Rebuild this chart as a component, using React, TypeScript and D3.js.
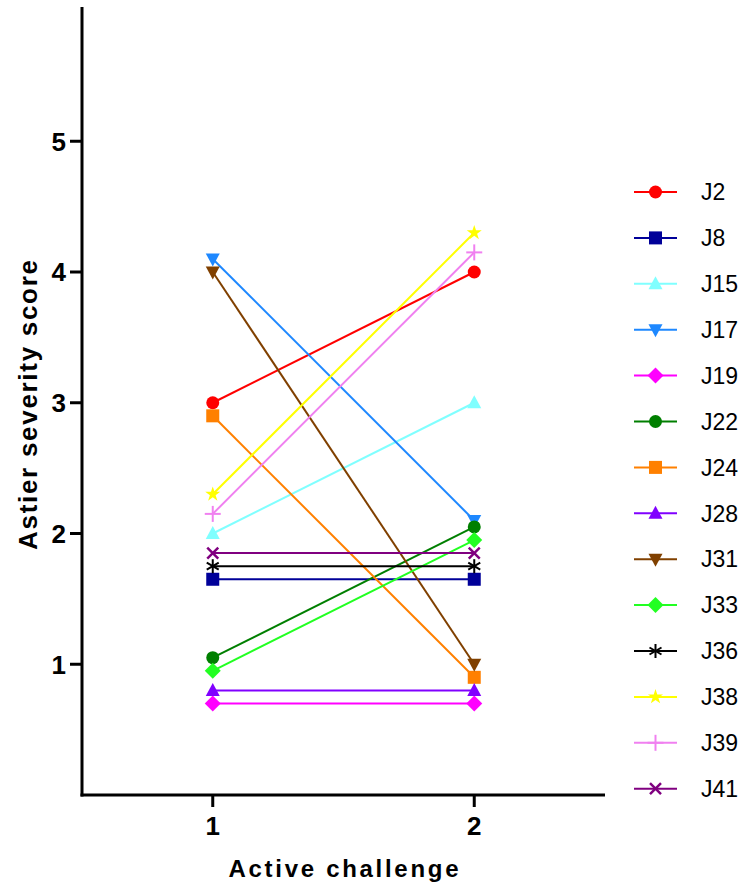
import React from "react";
import * as d3 from "d3";

const categories = [1, 2];
const seriesNames = ["J2", "J8", "J15", "J17", "J19", "J22", "J24", "J28", "J31", "J33", "J36", "J38", "J39", "J41"];
const seriesValues: number[][] = [
  [3.0, 4.0],
  [1.65, 1.65],
  [2.0, 3.0],
  [4.1, 2.1],
  [0.7, 0.7],
  [1.05, 2.05],
  [2.9, 0.9],
  [0.8, 0.8],
  [4.0, 1.0],
  [0.95, 1.95],
  [1.75, 1.75],
  [2.3, 4.3],
  [2.15, 4.15],
  [1.85, 1.85],
];
const seriesColors = ["#FF0000", "#000099", "#80FFFF", "#1E88FF", "#FF00FF", "#007F00", "#FF8000", "#8000FF", "#804000", "#22FF22", "#000000", "#FFFF00", "#F080F0", "#800080"];
const seriesMarkers = ["circle", "square", "triUp", "triDown", "diamond", "circle", "square", "triUp", "triDown", "diamond", "asterisk", "star", "plus", "cross"];
const yTicks = [1, 2, 3, 4, 5];
const xTitle = "Active challenge";
const yTitle = "Astier severity score";

const FONT = "'Liberation Sans', Arial, sans-serif";

function Marker({ type, x, y, color }: { type: string; x: number; y: number; color: string }) {
  const t = `translate(${x},${y})`;
  switch (type) {
    case "circle":
      return <circle cx={x} cy={y} r={6.5} fill={color} />;
    case "square":
      return <rect x={x - 6.5} y={y - 6.5} width={13} height={13} fill={color} />;
    case "triUp":
      return <path transform={t} d="M0,-7.5L7,5.5L-7,5.5Z" fill={color} />;
    case "triDown":
      return <path transform={t} d="M0,7.5L7,-5.5L-7,-5.5Z" fill={color} />;
    case "diamond":
      return <path transform={t} d="M0,-8L8,0L0,8L-8,0Z" fill={color} />;
    case "star":
      return <path transform={t} d={d3.symbol(d3.symbolStar, 70)() || ""} fill={color} />;
    case "plus":
      return (
        <g transform={t} stroke={color} strokeWidth={2}>
          <line x1={-8} y1={0} x2={8} y2={0} />
          <line x1={0} y1={-8} x2={0} y2={8} />
        </g>
      );
    case "cross":
      return (
        <g transform={t} stroke={color} strokeWidth={2.5}>
          <line x1={-5.5} y1={-5.5} x2={5.5} y2={5.5} />
          <line x1={-5.5} y1={5.5} x2={5.5} y2={-5.5} />
        </g>
      );
    case "asterisk":
      return (
        <g transform={t} stroke={color} strokeWidth={2}>
          <line x1={0} y1={-7} x2={0} y2={7} />
          <line x1={-6} y1={-3.5} x2={6} y2={3.5} />
          <line x1={-6} y1={3.5} x2={6} y2={-3.5} />
        </g>
      );
    default:
      return null;
  }
}

export default function App() {
  const W = 750;
  const H = 890;
  const x = d3.scaleLinear().domain([0.5, 2.5]).range([82, 605]);
  const y = d3.scaleLinear().domain([0, 6]).range([795, 10.5]);
  const line = d3
    .line<[number, number]>()
    .x((d) => x(d[0]))
    .y((d) => y(d[1]));

  const legX1 = 634;
  const legX2 = 677;
  const legY0 = 192;
  const legStep = 45.9;

  return (
    <svg width={W} height={H} style={{ position: "absolute", left: 0, top: 0, background: "#fff" }}>
      {seriesValues.map((vals, i) => (
        <path
          key={"l" + i}
          d={line(categories.map((c, j) => [c, vals[j]] as [number, number])) || ""}
          fill="none"
          stroke={seriesColors[i]}
          strokeWidth={2}
        />
      ))}
      {seriesValues.map((vals, i) =>
        categories.map((c, j) => (
          <Marker key={"m" + i + "-" + j} type={seriesMarkers[i]} x={x(c)} y={y(vals[j])} color={seriesColors[i]} />
        ))
      )}
      <line x1={x(0.5)} y1={y(0) + 1.5} x2={x(0.5)} y2={7} stroke="#000" strokeWidth={3} />
      <line x1={x(0.5) - 1.5} y1={y(0)} x2={x(2.5)} y2={y(0)} stroke="#000" strokeWidth={3} />
      {yTicks.map((t) => (
        <g key={"yt" + t}>
          <line x1={x(0.5) - 12} x2={x(0.5)} y1={y(t)} y2={y(t)} stroke="#000" strokeWidth={3} />
          <text x={x(0.5) - 16} y={y(t)} dy="0.36em" textAnchor="end" fontFamily={FONT} fontWeight="bold" fontSize={26}>
            {t}
          </text>
        </g>
      ))}
      {categories.map((c) => (
        <g key={"xt" + c}>
          <line x1={x(c)} x2={x(c)} y1={y(0)} y2={y(0) + 12} stroke="#000" strokeWidth={3} />
          <text x={x(c)} y={835} textAnchor="middle" fontFamily={FONT} fontWeight="bold" fontSize={26}>
            {c}
          </text>
        </g>
      ))}
      <text x={(x(1) + x(2)) / 2} y={877} textAnchor="middle" fontFamily={FONT} fontWeight="bold" fontSize={24} textLength={230} lengthAdjust="spacing">
        {xTitle}
      </text>
      <text
        transform={`translate(37,${405}) rotate(-90)`}
        textAnchor="middle"
        fontFamily={FONT}
        fontWeight="bold"
        fontSize={26}
        textLength={290}
        lengthAdjust="spacing"
      >
        {yTitle}
      </text>
      {seriesNames.map((name, i) => {
        const ly = legY0 + i * legStep;
        return (
          <g key={"lg" + i}>
            <line x1={legX1} x2={legX2} y1={ly} y2={ly} stroke={seriesColors[i]} strokeWidth={2} />
            <Marker type={seriesMarkers[i]} x={(legX1 + legX2) / 2} y={ly} color={seriesColors[i]} />
            <text x={701} y={ly} dy="0.36em" fontFamily={FONT} fontSize={23}>
              {name}
            </text>
          </g>
        );
      })}
    </svg>
  );
}
